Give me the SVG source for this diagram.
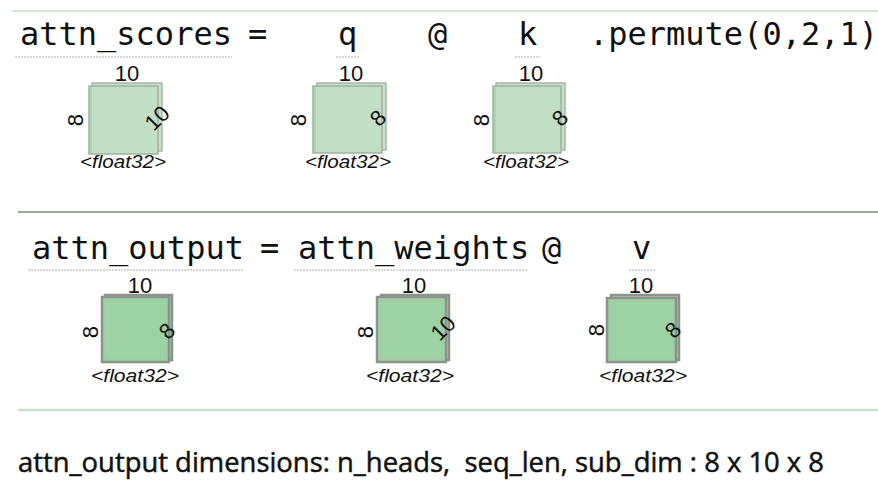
<svg xmlns="http://www.w3.org/2000/svg" width="878" height="488" viewBox="0 0 878 488">
<style>
.code{font-family:"DejaVu Sans Mono","Liberation Mono",monospace;font-size:32px;fill:#111}
.lbl{font-family:"Liberation Sans",Arial,sans-serif;font-size:22px;fill:#111}
.dt{font-family:"Liberation Sans",Arial,sans-serif;font-size:19px;font-style:italic;fill:#111}
.ul{stroke:#c8ccc8;stroke-width:1.5;stroke-dasharray:2 1}
.b1{fill:#c6e1c8;stroke:#a9b6a9;stroke-width:1.5}
.f1{fill:#c2dec4;stroke:#a3b0a3;stroke-width:1.5}
.e1{stroke:#a6d8ab;stroke-width:2}
.b2{fill:#9fd4a6;stroke:#8b938b;stroke-width:2.5}
.f2{fill:#9dd3a4;stroke:#8b938b;stroke-width:2.5}
.in2{fill:none;stroke:#b0b8b0;stroke-width:1;stroke-dasharray:1 1}
.foot{font-family:"Open Sans","Noto Sans",sans-serif;font-size:28px;fill:#111;stroke:#111;stroke-width:0.5}
</style>
<rect width="878" height="488" fill="#ffffff"/>
<g id="rules">
<line x1="12" y1="11" x2="878" y2="11" stroke="#d2e6d3" stroke-width="2"/>
<line x1="18" y1="212" x2="878" y2="212" stroke="#9ca89c" stroke-width="2"/>
<line x1="18" y1="410" x2="878" y2="410" stroke="#c8dfc9" stroke-width="2.5"/>
</g>
<g id="row1-code">
<text class="code" x="20" y="45">attn_scores</text>
<text class="code" x="248" y="45">=</text>
<text class="code" x="338" y="45">q</text>
<text class="code" x="428" y="45">@</text>
<text class="code" x="518" y="45">k</text>
<text class="code" x="589" y="45">.permute(0,2,1)</text>
<line class="ul" x1="15" y1="57" x2="232" y2="57"/>
<line class="ul" x1="336" y1="57" x2="360" y2="57"/>
<line class="ul" x1="515" y1="57" x2="540" y2="57"/>
</g>
<g id="node-attn_scores">
<rect class="b1" x="92" y="83" width="70" height="68"/>
<rect class="f1" x="89" y="86" width="69" height="68"/>
<line class="e1" x1="91" y1="87" x2="91" y2="153"/>
<text class="lbl" x="127" y="81" text-anchor="middle">10</text>
<text class="lbl" transform="translate(83,120) rotate(-90)" text-anchor="middle">8</text>
<text class="lbl" transform="translate(157,118) rotate(-45)" text-anchor="middle" dy="0.35em">10</text>
<text class="dt" x="123" y="168" text-anchor="middle" textLength="86" lengthAdjust="spacingAndGlyphs">&lt;float32&gt;</text>
</g>
<g id="node-q">
<rect class="b1" x="317" y="83" width="69" height="67"/>
<rect class="f1" x="313" y="86" width="69" height="67"/>
<line class="e1" x1="315" y1="87" x2="315" y2="152"/>
<text class="lbl" x="351" y="81" text-anchor="middle">10</text>
<text class="lbl" transform="translate(306,120) rotate(-90)" text-anchor="middle">8</text>
<text class="lbl" transform="translate(378,118) rotate(-45)" text-anchor="middle" dy="0.35em">8</text>
<text class="dt" x="348" y="168" text-anchor="middle" textLength="86" lengthAdjust="spacingAndGlyphs">&lt;float32&gt;</text>
</g>
<g id="node-k">
<rect class="b1" x="496" y="83" width="69" height="67"/>
<rect class="f1" x="493" y="86" width="68" height="67"/>
<line class="e1" x1="495" y1="87" x2="495" y2="152"/>
<text class="lbl" x="531" y="81" text-anchor="middle">10</text>
<text class="lbl" transform="translate(489,120) rotate(-90)" text-anchor="middle">8</text>
<text class="lbl" transform="translate(560,118) rotate(-45)" text-anchor="middle" dy="0.35em">8</text>
<text class="dt" x="526" y="168" text-anchor="middle" textLength="86" lengthAdjust="spacingAndGlyphs">&lt;float32&gt;</text>
</g>
<g id="row2-code">
<text class="code" x="32" y="259">attn_output</text>
<text class="code" x="260" y="259">=</text>
<text class="code" x="298" y="259">attn_weights</text>
<text class="code" x="542" y="259">@</text>
<text class="code" x="632" y="259">v</text>
<line class="ul" x1="28" y1="270" x2="243" y2="270"/>
<line class="ul" x1="294" y1="270" x2="528" y2="270"/>
<line class="ul" x1="629" y1="270" x2="655" y2="270"/>
</g>
<g id="node-attn_output">
<rect class="b2" x="105" y="295" width="67" height="65"/>
<rect class="f2" x="102" y="297" width="67" height="65"/>
<rect class="in2" x="105" y="300" width="61" height="59"/>
<text class="lbl" x="140" y="293" text-anchor="middle">10</text>
<text class="lbl" transform="translate(98,332) rotate(-90)" text-anchor="middle">8</text>
<text class="lbl" transform="translate(167,331) rotate(-45)" text-anchor="middle" dy="0.35em">8</text>
<text class="dt" x="135" y="382" text-anchor="middle" textLength="88" lengthAdjust="spacingAndGlyphs">&lt;float32&gt;</text>
</g>
<g id="node-attn_weights">
<rect class="b2" x="381" y="295" width="68" height="65"/>
<rect class="f2" x="377" y="297" width="69" height="65"/>
<rect class="in2" x="380" y="300" width="63" height="59"/>
<text class="lbl" x="414" y="293" text-anchor="middle">10</text>
<text class="lbl" transform="translate(373,332) rotate(-90)" text-anchor="middle">8</text>
<text class="lbl" transform="translate(443,328) rotate(-45)" text-anchor="middle" dy="0.35em">10</text>
<text class="dt" x="410" y="382" text-anchor="middle" textLength="88" lengthAdjust="spacingAndGlyphs">&lt;float32&gt;</text>
</g>
<g id="node-v">
<rect class="b2" x="611" y="295" width="68" height="65"/>
<rect class="f2" x="607" y="298" width="69" height="64"/>
<rect class="in2" x="610" y="301" width="63" height="58"/>
<text class="lbl" x="641" y="293" text-anchor="middle">10</text>
<text class="lbl" transform="translate(604,330) rotate(-90)" text-anchor="middle">8</text>
<text class="lbl" transform="translate(673,330) rotate(-45)" text-anchor="middle" dy="0.35em">8</text>
<text class="dt" x="643" y="382" text-anchor="middle" textLength="88" lengthAdjust="spacingAndGlyphs">&lt;float32&gt;</text>
</g>
<g id="connectors"></g>
<g id="footer">
<text class="foot" x="18" y="472" textLength="806" lengthAdjust="spacingAndGlyphs" xml:space="preserve">attn_output dimensions: n_heads,  seq_len, sub_dim : 8 x 10 x 8</text>
</g>
</svg>
